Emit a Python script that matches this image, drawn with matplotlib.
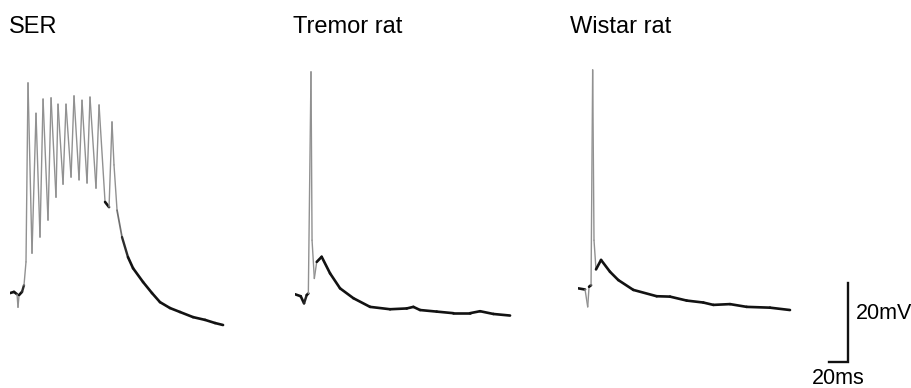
import numpy as np
import matplotlib.pyplot as plt
from matplotlib.collections import LineCollection

plt.rcParams['font.family'] = ['Liberation Sans', 'DejaVu Sans']

# traces: time (ms) and membrane potential (mV)
ser_t = [0, 4.2, 7.4, 8.4, 9.5, 12.6, 14.7, 16.8, 18.9, 23.1, 27.3, 31.5, 34.7, 39.9,
         43.1, 48.3, 50.4, 55.7, 58.8, 64.1, 67.2, 72.5, 75.6, 80.9, 84.0, 90.3, 93.5,
         99.8, 104.0, 107.1, 109.2, 112.4, 117.6, 123.9, 129.2, 139.7, 149.1, 157.5,
         168.0, 178.5, 192.2, 204.8, 215.3, 223.7]
ser_v = [-62.0, -61.7, -62.3, -65.6, -62.5, -61.7, -60.0, -54.1, -8.7, -51.9, -16.4,
         -47.8, -12.8, -43.5, -12.5, -37.7, -14.1, -34.4, -14.1, -32.6, -12.0, -33.3,
         -13.1, -34.1, -12.3, -35.4, -14.3, -38.9, -40.2, -18.6, -29.5, -41.0, -47.8,
         -52.9, -55.7, -59.2, -62.0, -64.3, -65.8, -66.8, -68.1, -68.8, -69.6, -70.1]

tremor_t = [0, 6.0, 9.5, 12.3, 14.0, 16.8, 17.9, 20.3, 22.8, 28.0, 36.8, 47.3, 61.3,
            78.8, 99.8, 117.3, 124.3, 131.3, 148.8, 166.3, 183.8, 194.3, 208.3, 225.8]
tremor_v = [-62.3, -62.8, -64.6, -62.5, -62.1, -5.9, -48.6, -58.3, -54.1, -52.8, -57.0,
            -60.8, -63.3, -65.5, -66.1, -65.9, -65.5, -66.3, -66.7, -67.1, -67.1, -66.6,
            -67.3, -67.7]

wistar_t = [0.3, 7.4, 10.2, 11.6, 13.7, 15.4, 16.8, 18.9, 24.2, 33.6, 42.3, 58.1, 82.6,
            96.6, 114.1, 131.6, 142.1, 159.6, 177.1, 201.6, 222.6]
wistar_v = [-60.8, -61.1, -65.5, -60.4, -60.0, -5.4, -48.6, -56.0, -53.6, -56.6, -58.7,
            -61.2, -62.8, -62.9, -63.9, -64.4, -65.0, -64.8, -65.5, -65.7, -66.3]

titles = ['SER', 'Tremor rat', 'Wistar rat']
scale_ms = 20
scale_mv = 20

W, H = 912, 388
fig = plt.figure(figsize=(W / 100, H / 100), dpi=100)

ylim = (-73.9, -2.9)
lefts = [10, 295, 578]
axes = []
for left in lefts:
    ax = fig.add_axes([left / W, (H - 340) / H, 240 / W, 280 / H])
    ax.set_xlim(0, 252)
    ax.set_ylim(*ylim)
    ax.axis('off')
    axes.append(ax)


def draw_trace(ax, t, v):
    t = np.asarray(t, float)
    v = np.asarray(v, float)
    pts = np.column_stack([t, v])
    segs = np.stack([pts[:-1], pts[1:]], axis=1)
    # steep (fast) parts come out pale and thin, like on the chart recorder
    slope = np.abs(np.diff(v) / 0.2536) / np.maximum(np.diff(t) / 1.05, 1e-6)
    w = np.clip((slope - 2.5) / 4.0, 0, 1)
    grey = 0.07 + 0.5 * w
    colors = np.column_stack([grey, grey, grey])
    widths = 1.9 - 0.9 * w
    lc = LineCollection(segs, colors=colors, linewidths=widths, capstyle='round',
                        joinstyle='round')
    ax.add_collection(lc)


draw_trace(axes[0], ser_t, ser_v)
draw_trace(axes[1], tremor_t, tremor_v)
draw_trace(axes[2], wistar_t, wistar_v)

for left, title in zip([9, 293, 570], titles):
    fig.text(left / W, 1 - 33 / H, title, fontsize=17, ha='left', va='baseline')

# scale bar
ax = axes[2]
x1 = 283.5
x0 = x1 - scale_ms
y0 = -79.5
ax.plot([x0, x1, x1], [y0, y0, y0 + scale_mv], color='#111111', lw=1.7,
        clip_on=False, solid_joinstyle='miter')
ax.text(x1 + 8.5, y0 + 12.4, f'{scale_mv}mV', fontsize=15.5, ha='left', va='center')
ax.text((x0 + x1) / 2, y0 - 4.1, f'{scale_ms}ms', fontsize=15.5, ha='center',
        va='center')

fig.savefig('out.png', dpi=100, facecolor='white')
